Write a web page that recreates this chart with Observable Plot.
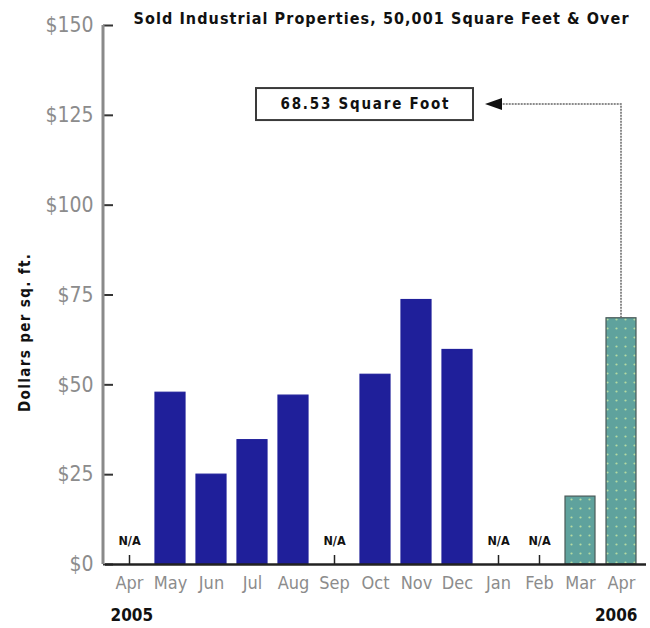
<!DOCTYPE html>
<html><head><meta charset="utf-8">
<script src="https://cdn.jsdelivr.net/npm/d3@7"></script>
<script src="https://cdn.jsdelivr.net/npm/@observablehq/plot@0.6"></script>
<style>
body{margin:0;background:#fff;}
#chart svg{display:block;}
</style></head>
<body><div id="chart"></div>
<script>
// ---- data ----
const months = ["Apr","May","Jun","Jul","Aug","Sep","Oct","Nov","Dec","Jan","Feb","Mar","Apr"];
const years  = [2005,2005,2005,2005,2005,2005,2005,2005,2005,2006,2006,2006,2006];
const values = [null,47.8,25,34.6,47,null,52.8,73.6,59.7,null,null,18.9,68.53];
const highlighted = [false,false,false,false,false,false,false,false,false,false,false,true,true];
const yTicks = [0,25,50,75,100,125,150];
const yTickLabels = ["$0","$25","$50","$75","$100","$125","$150"];
const yearLabels = ["2005","2006"];
const titleText = "Sold Industrial Properties, 50,001 Square Feet & Over";
const yLabelText = "Dollars per sq. ft.";
const naText = "N/A";
const calloutText = "68.53 Square Foot";

const data = months.map((m,i)=>({key:`${m} ${years[i]}`, month:m, year:years[i], value:values[i], hl:highlighted[i]}));
const bars = data.filter(d=>d.value!=null);
const na = data.filter(d=>d.value==null);
const first = data[0], last = data[data.length-1];

const BLUE = "#1f1f9a", TEAL = "#5fa29d";
const FONT = "'Liberation Sans Narrow','DejaVu Sans Condensed','Arial Narrow',sans-serif";
const W = 650, H = 628, mL = 105, mR = 4, mT = 25, mB = 64;
const plotW = W - mL - mR, plotH = H - mT - mB;

const chart = Plot.plot({
  width: W, height: H,
  marginLeft: mL, marginRight: mR, marginTop: mT, marginBottom: mB,
  style: {fontFamily: FONT, background: "#fff", overflow: "visible"},
  x: {domain: data.map(d=>d.key), paddingInner: 0.26, paddingOuter: 0.13, axis: null},
  y: {domain: [0,150], axis: null},
  marks: [
    Plot.barY(bars, {x:"key", y:"value",
      fill: d => d.hl ? "url(#tealdots)" : BLUE,
      stroke: d => d.hl ? "#4a5a58" : BLUE,
      strokeWidth: 1.2, strokeDasharray: d => d.hl ? "1.5,1" : null}),
    // y tick marks (pointing inward)
    Plot.ruleY(yTicks, {stroke:"#333", strokeWidth:2, insetRight: plotW - 10, dx:-2}),
    // y tick labels
    Plot.axisY({ticks: yTicks, tickSize: 0, tickPadding: 12, fontSize: 21, fill: "#8c8c8c",
      tickFormat: d => yTickLabels[yTicks.indexOf(d)], label: null}),
    // x labels
    Plot.axisX({tickSize: 0, tickPadding: 12, fontSize: 18, fill: "#8c8c8c",
      tickFormat: k => data.find(d=>d.key===k).month, label: null}),
    // N/A ticks and labels
    Plot.tickX(na, {x:"key", stroke:"#222", strokeWidth:1.5, insetTop: plotH - 9}),
    Plot.text(na, {x:"key", frameAnchor:"bottom", lineAnchor:"middle", dy:-24,
      text: () => naText, fontWeight:"bold", fontSize: 12.5, fill:"#111"}),
    // baseline
    Plot.ruleY([0], {stroke:"#222", strokeWidth:2.5}),
    // years
    Plot.text([yearLabels[0]], {x: () => first.key, frameAnchor:"bottom", lineAnchor:"middle",
      dy: 51, dx: -19, textAnchor:"start", fontWeight:"bold", fontSize: 17, fill:"#111"}),
    Plot.text([yearLabels[1]], {x: () => last.key, frameAnchor:"bottom", lineAnchor:"middle",
      dy: 51, dx: 16, textAnchor:"end", fontWeight:"bold", fontSize: 17, fill:"#111"}),
    // y axis title
    Plot.text([yLabelText], {frameAnchor:"left", lineAnchor:"middle", textAnchor:"middle",
      rotate:-90, dx:-80, dy:38, fontWeight:"bold", fontSize: 15, fill:"#111"}),
    // title
    Plot.text([titleText], {frameAnchor:"top-left", lineAnchor:"middle", textAnchor:"start",
      dx: 28, dy: -7, fontWeight:"bold", fontSize: 16, fill:"#111"})
  ]
});

const svg = d3.select(chart);
// patterns
const defs = svg.insert("defs", ":first-child");
const pat = defs.append("pattern").attr("id","tealdots").attr("patternUnits","userSpaceOnUse")
  .attr("width",9).attr("height",9);
pat.append("rect").attr("width",9).attr("height",9).attr("fill",TEAL);
pat.append("circle").attr("cx",4.5).attr("cy",4.5).attr("r",1.1).attr("fill","#b4dba2");

// fit text widths
const byText = s => svg.selectAll("text").filter(function(){ return this.textContent === s; });
byText(titleText).attr("textLength", 495).attr("lengthAdjust","spacing");
byText(yLabelText).attr("textLength", 158).attr("lengthAdjust","spacing");

// annotation layer: axis line, callout box, connector arrow
const xs = chart.scale("x"), ys = chart.scale("y");
const bw = xs.bandwidth;
const cx = k => xs.apply(k) + bw/2;
const ann = svg.append("g");
ann.append("line").attr("x1", mL-2).attr("x2", mL-2)
  .attr("y1", ys.apply(150)).attr("y2", ys.apply(0))
  .attr("stroke","#8a8a8a").attr("stroke-width",3);
const level = ys.apply(128);
const tipX = cx(data[10].key) - 54;
const boxR = tipX - 12, boxL = boxR - 217;
ann.append("rect").attr("x", boxL).attr("y", level-16).attr("width", 217).attr("height", 32)
  .attr("fill","#fff").attr("stroke","#3a3a3a").attr("stroke-width",2);
ann.append("text").attr("x", (boxL+boxR)/2).attr("y", level).attr("dy","0.35em")
  .attr("text-anchor","middle").attr("font-weight","bold").attr("font-size",15)
  .attr("fill","#111").attr("textLength",168).attr("lengthAdjust","spacing").text(calloutText);
const bx = cx(last.key);
ann.append("path")
  .attr("d", `M${bx},${ys.apply(last.value)}V${level}H${tipX+16}`)
  .attr("fill","none").attr("stroke","#666").attr("stroke-width",1.5).attr("stroke-dasharray","2,1");
ann.append("path")
  .attr("d", `M${tipX},${level}L${tipX+17},${level-6}L${tipX+17},${level+6}Z`)
  .attr("fill","#111");

document.getElementById("chart").append(chart);
</script>
</body></html>
